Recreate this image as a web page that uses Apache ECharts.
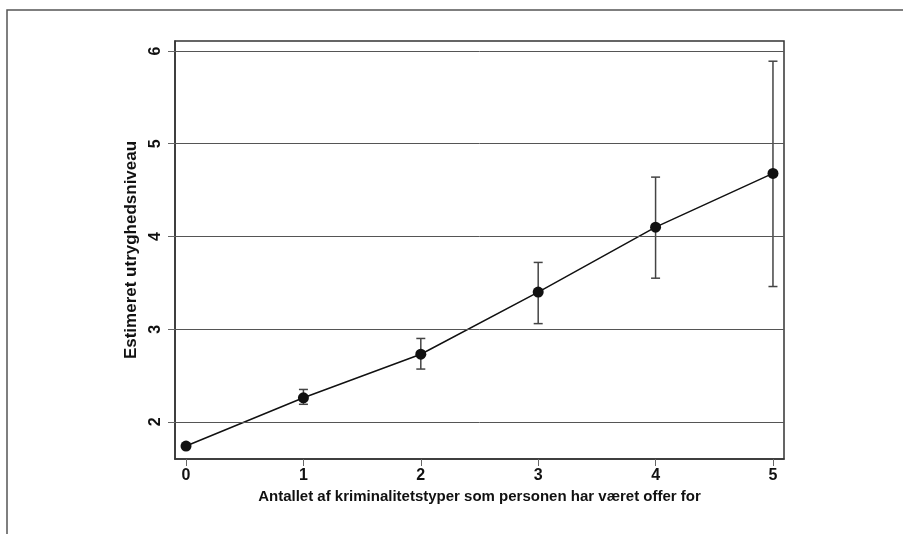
<!DOCTYPE html>
<html>
<head>
<meta charset="utf-8">
<script src="https://cdn.jsdelivr.net/npm/echarts@6/dist/echarts.min.js"></script>
<style>
html,body{margin:0;padding:0;background:#fff;}
#chart{width:903px;height:534px;}
</style>
</head>
<body>
<div id="chart"></div>
<script>
// Data
const xValues = [0, 1, 2, 3, 4, 5];
const estimates = [1.74, 2.26, 2.73, 3.40, 4.10, 4.68];
const lowerCI = [1.74, 2.19, 2.57, 3.06, 3.55, 3.46];
const upperCI = [1.74, 2.35, 2.90, 3.72, 4.64, 5.89];
const xTicks = [0, 1, 2, 3, 4, 5];
const yTicks = [2, 3, 4, 5, 6];
const xTitle = 'Antallet af kriminalitetstyper som personen har været offer for';
const yTitle = 'Estimeret utryghedsniveau';

const chart = echarts.init(document.getElementById('chart'), null, {renderer: 'canvas'});
const font = 'Liberation Sans, Arial, Helvetica, sans-serif';

const errData = xValues.map((x, i) => [x, lowerCI[i], upperCI[i]]);

const option = {
  backgroundColor: '#fff',
  animation: false,
  graphic: [{
    type: 'rect',
    shape: {x: 7, y: 10, width: 1000, height: 1000},
    style: {fill: 'none', stroke: '#555', lineWidth: 1.5},
    silent: true
  }],
  grid: {
    left: 175, top: 41, width: 609, height: 418,
    show: true, borderColor: '#333', borderWidth: 1.5, backgroundColor: '#fff'
  },
  xAxis: {
    type: 'value', min: -0.094, max: 5.094,
    name: xTitle, nameLocation: 'middle', nameGap: 28,
    nameTextStyle: {fontFamily: font, fontSize: 15, fontWeight: 'bold', color: '#111'},
    axisLine: {show: true, onZero: false, lineStyle: {color: '#333', width: 1.5}},
    axisTick: {show: true, length: 7, customValues: xTicks, lineStyle: {color: '#666', width: 1}},
    axisLabel: {customValues: xTicks, margin: 9, fontFamily: font, fontSize: 16, fontWeight: 'bold', color: '#111'},
    splitLine: {show: false}
  },
  yAxis: {
    type: 'value', min: 1.6, max: 6.108,
    name: yTitle, nameLocation: 'middle', nameGap: 31, nameRotate: 90,
    nameTextStyle: {fontFamily: font, fontSize: 17, fontWeight: 'bold', color: '#111'},
    axisLine: {show: true, onZero: false, lineStyle: {color: '#333', width: 1.5}},
    axisTick: {show: true, length: 7, customValues: yTicks, lineStyle: {color: '#666', width: 1}},
    axisLabel: {customValues: yTicks, rotate: 90, margin: 11, fontFamily: font, fontSize: 16, fontWeight: 'bold', color: '#111'},
    splitLine: {show: false}
  },
  series: [
    {
      type: 'line',
      data: [],
      silent: true,
      markLine: {
        silent: true,
        symbol: 'none',
        label: {show: false},
        lineStyle: {color: '#555', width: 1, type: 'solid'},
        data: yTicks.map(v => ({yAxis: v}))
      }
    },
    {
      type: 'custom',
      data: errData,
      z: 3,
      renderItem: function (params, api) {
        const x = api.value(0);
        const lo = api.coord([x, api.value(1)]);
        const hi = api.coord([x, api.value(2)]);
        const hw = 4.5;
        const st = {stroke: '#444', lineWidth: 1.5};
        return {
          type: 'group',
          children: [
            {type: 'line', shape: {x1: lo[0], y1: lo[1], x2: hi[0], y2: hi[1]}, style: st},
            {type: 'line', shape: {x1: lo[0] - hw, y1: lo[1], x2: lo[0] + hw, y2: lo[1]}, style: st},
            {type: 'line', shape: {x1: hi[0] - hw, y1: hi[1], x2: hi[0] + hw, y2: hi[1]}, style: st}
          ]
        };
      }
    },
    {
      type: 'line',
      data: xValues.map((x, i) => [x, estimates[i]]),
      z: 4,
      symbol: 'circle',
      symbolSize: 11,
      lineStyle: {color: '#111', width: 1.5},
      itemStyle: {color: '#111'}
    }
  ]
};
chart.setOption(option);
</script>
</body>
</html>
